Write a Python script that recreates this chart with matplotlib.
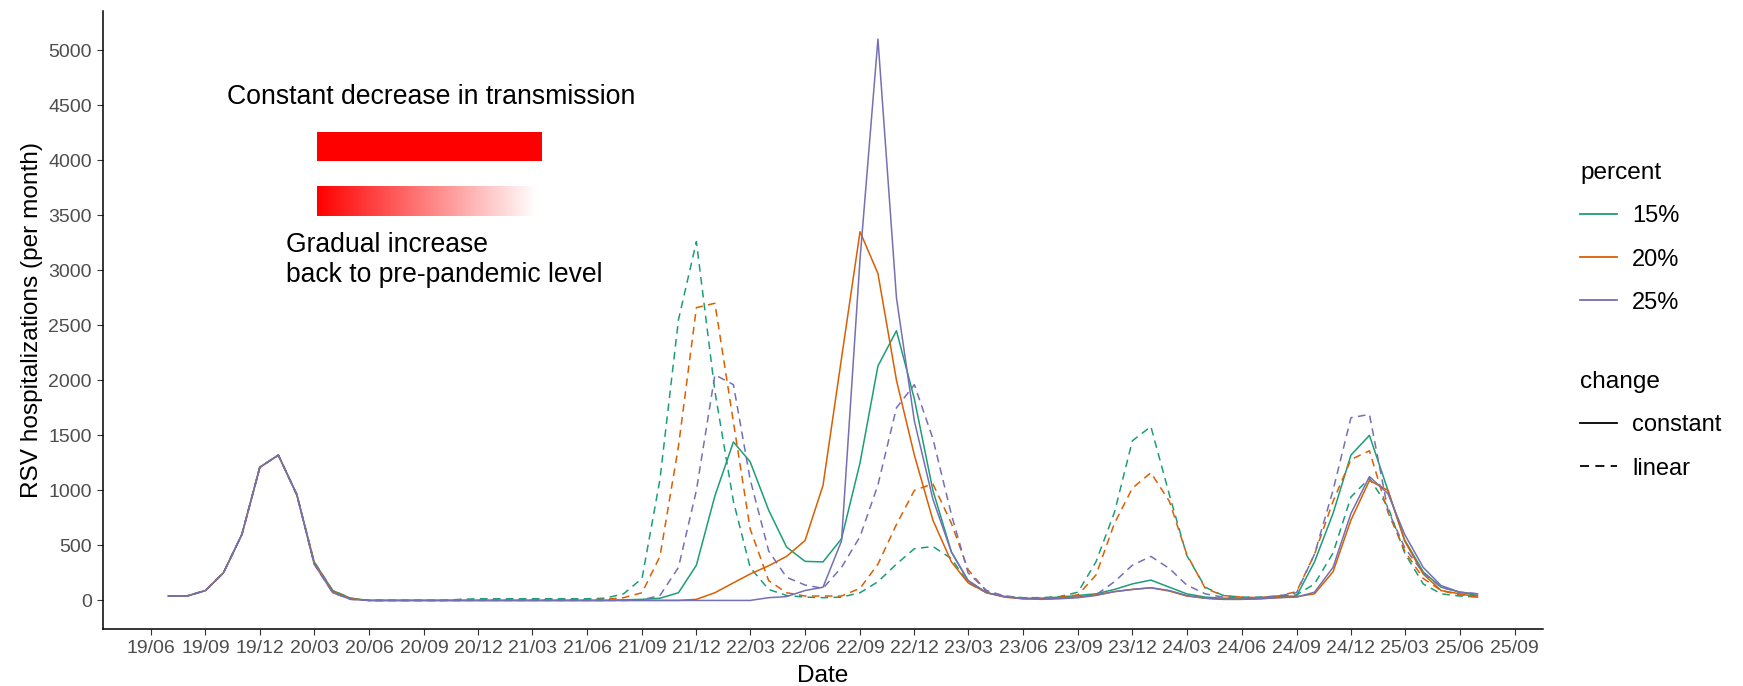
import numpy as np
import pandas as pd
import matplotlib
matplotlib.use('Agg')
import matplotlib.pyplot as plt
import matplotlib.dates as mdates
from matplotlib.lines import Line2D
from matplotlib.patches import Rectangle

plt.rcParams['font.family'] = ['Liberation Sans', 'DejaVu Sans']

# monthly RSV hospitalizations, Jul 2019 - Jul 2025
dates = pd.date_range('2019-07-01', '2025-07-01', freq='MS')

pre = [40, 40, 90, 250, 600, 1210, 1320, 960]

green_const = pre + [350, 90, 20] + [0]*13 + \
    [0, 5, 10, 20, 70, 320, 950, 1440, 1260, 820, 485, 355] + \
    [350, 560, 1250, 2130, 2450, 1830, 1000, 440, 180, 70, 35, 20] + \
    [20, 30, 45, 60, 100, 150, 185, 120, 60, 30, 20, 20] + \
    [25, 35, 40, 350, 790, 1320, 1500, 1000, 550, 260, 120, 75, 45]

orange_const = pre + [340, 80, 15] + [0]*13 + \
    [0, 0, 0, 0, 0, 10, 70, 160, 240, 315, 400, 545] + \
    [1045, 2200, 3350, 2970, 2000, 1320, 730, 350, 160, 70, 30, 15] + \
    [15, 20, 30, 50, 80, 100, 115, 85, 40, 20, 10, 10] + \
    [15, 25, 35, 60, 260, 730, 1090, 1000, 540, 240, 90, 60, 30]

purple_const = pre + [330, 70, 10] + [0]*13 + \
    [0, 0, 0, 0, 0, 0, 0, 0, 0, 25, 35, 90] + \
    [120, 540, 3100, 5100, 2750, 1630, 920, 440, 180, 70, 35, 15] + \
    [10, 15, 25, 45, 80, 100, 115, 90, 45, 20, 10, 10] + \
    [15, 25, 30, 75, 300, 790, 1125, 970, 600, 300, 135, 75, 60]

green_lin = pre + [350, 90, 20] + [0, 0, 0, 0, 0, 10, 15, 15, 15, 15, 15, 15, 15] + \
    [20, 60, 200, 1100, 2550, 3260, 1900, 900, 300, 100, 45, 30] + \
    [25, 30, 70, 170, 330, 470, 490, 380, 160, 70, 40, 25] + \
    [25, 35, 75, 350, 800, 1450, 1580, 960, 410, 120, 45, 30] + \
    [30, 40, 50, 150, 430, 940, 1110, 850, 430, 150, 60, 40, 30]

orange_lin = pre + [340, 80, 15] + [0, 0, 0, 0, 0, 0, 3, 5, 5, 5, 5, 5, 5] + \
    [10, 25, 70, 400, 1400, 2660, 2700, 1620, 650, 180, 70, 40] + \
    [40, 40, 110, 330, 690, 1000, 1060, 700, 280, 80, 35, 20] + \
    [20, 30, 50, 230, 700, 1020, 1160, 900, 420, 110, 45, 30] + \
    [25, 40, 80, 420, 900, 1280, 1360, 800, 450, 200, 90, 50, 40]

purple_lin = pre + [330, 70, 10] + [0]*13 + \
    [0, 0, 5, 45, 300, 1000, 2050, 1960, 1100, 450, 210, 140] + \
    [110, 300, 580, 1050, 1750, 1960, 1470, 780, 250, 90, 40, 20] + \
    [15, 20, 30, 50, 170, 320, 400, 290, 140, 60, 30, 20] + \
    [25, 40, 70, 420, 1000, 1660, 1690, 820, 480, 250, 120, 75, 60]

percents = ['15%', '20%', '25%']
changes = ['constant', 'linear']
colors = {'15%': '#1B9E77', '20%': '#D95F02', '25%': '#7570B3'}
styles = {'constant': '-', 'linear': (0, (5, 3.5))}
series = {
    ('15%', 'constant'): green_const, ('15%', 'linear'): green_lin,
    ('20%', 'constant'): orange_const, ('20%', 'linear'): orange_lin,
    ('25%', 'constant'): purple_const, ('25%', 'linear'): purple_lin,
}

tick_dates = pd.date_range('2019-06-01', '2025-09-01', freq='3MS')

fig = plt.figure(figsize=(17.43, 6.86), dpi=100)
ax = fig.add_axes([103/1743, 57.5/686, 1440/1743, 617.5/686])

for p in percents:
    for c in changes:
        ax.plot(dates, series[(p, c)], color=colors[p], linestyle=styles[c], lw=1.1)

x0 = mdates.date2num(dates[0])
x1 = mdates.date2num(dates[-1])
pad = 0.05 * (x1 - x0)

ax.set_xticks(tick_dates)
ax.set_xticklabels(tick_dates.strftime('%y/%m'))
ax.set_yticks(np.arange(0, 5001, 500))
ax.tick_params(labelsize=14, labelcolor='#4D4D4D', color='#333333', length=4, width=0.8, pad=4)

for s in ['top', 'right']:
    ax.spines[s].set_visible(False)
for s in ['left', 'bottom']:
    ax.spines[s].set_linewidth(1.1)

ax.set_xlabel('Date', fontsize=17.6, labelpad=6)
ax.set_ylabel('RSV hospitalizations (per month)', fontsize=17.6, labelpad=4)

# scenario sketch: constant vs gradual change in transmission
ax.text(mdates.date2num(pd.Timestamp('2019-10-07')), 4570, 'Constant decrease in transmission',
        fontsize=19.2, va='center', ha='left')
r0 = mdates.date2num(pd.Timestamp('2020-03-05'))
r1 = mdates.date2num(pd.Timestamp('2021-03-18'))
ax.add_patch(Rectangle((r0, 3990), r1 - r0, 270, color='#FF0000', lw=0))
grad = np.ones((1, 256, 3))
t = np.linspace(0, 1, 256)
grad[0, :, 1] = t
grad[0, :, 2] = t
ax.imshow(grad, extent=[r0, mdates.date2num(pd.Timestamp('2021-03-08')), 3495, 3760],
          aspect='auto', interpolation='bilinear', zorder=2)
ax.text(mdates.date2num(pd.Timestamp('2020-01-14')), 3090,
        'Gradual increase\nback to pre-pandemic level',
        fontsize=19.1, va='center', ha='left', linespacing=1.2)
ax.set_xlim(x0 - pad, x1 + pad)
ax.set_ylim(-255, 5355)

leg_kw = dict(loc='upper left', frameon=False, fontsize=17, title_fontsize=17.6,
              alignment='left', handlelength=1.55, handletextpad=0.66,
              labelspacing=0.9, borderpad=0, borderaxespad=0)
h1 = [Line2D([], [], color=colors[p], lw=1.3) for p in percents]
fig.legend(h1, percents, title='percent', bbox_to_anchor=(1580/1743, 1 - 162/686), **leg_kw)
h2 = [Line2D([], [], color='black', lw=1.3, linestyle=styles[c]) for c in changes]
fig.legend(h2, changes, title='change', bbox_to_anchor=(1580/1743, 1 - 371/686), **leg_kw)

fig.savefig('out.png', dpi=100)
